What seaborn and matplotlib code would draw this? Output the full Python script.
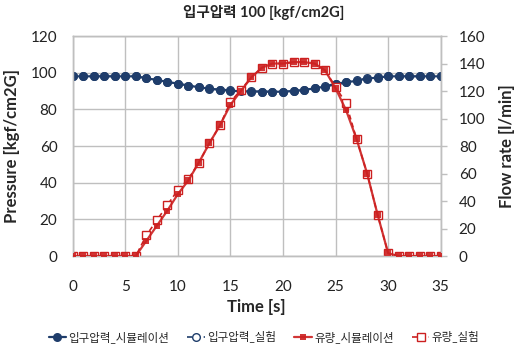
import matplotlib
matplotlib.use("Agg")
import matplotlib.pyplot as plt
import seaborn as sns
import pandas as pd

sns.set_theme(style="white")
plt.rcParams["font.family"] = ["Lato", "Noto Sans CJK KR", "DejaVu Sans"]

# Time axis [s]
time_s = list(range(0, 36))

# Inlet pressure [kgf/cm2G]
pressure_sim = [98, 98, 98, 98, 98, 98, 98, 97, 96, 95, 94, 93, 92, 91.3, 90.5, 90.2,
                89.8, 89.7, 89.7, 89.6, 89.6, 90.0, 90.5, 91.5, 92.4, 93.6, 94.7, 95.6,
                96.8, 97.3, 98, 98, 98, 98, 98, 98]
pressure_exp = [98, 98, 98, 98, 98, 98, 98, 97, 96, 95, 94, 93, 92, 91.4, 90.8, 90.6,
                90.3, 89.9, 89.7, 89.6, 89.6, 90.0, 90.6, 91.7, 92.8, 94.0, 95.0, 96.0,
                96.9, 97.4, 98, 98, 98, 98, 98, 98]

# Flow rate [l/min]
flow_sim = [0, 0, 0, 0, 0, 0, 0, 11, 22, 33, 45, 55, 68, 82, 95, 110, 120, 130, 137,
            140, 140, 141, 141, 140, 135, 122, 106, 85, 60, 30, 2, 0, 0, 0, 0, 0]
flow_exp = [0, 0, 0, 0, 0, 0, 0, 15, 26, 37, 48, 56, 68, 82, 95, 112, 121, 130, 137,
            140, 140, 141, 141, 140, 135, 123, 111, 85, 60, 30, 2, 0, 0, 0, 0, 0]

labels = ["입구압력_시뮬레이션", "입구압력_실험", "유량_시뮬레이션", "유량_실험"]
title = "입구압력 100 [kgf/cm2G]"

navy = "#1F3D6B"
red = "#CC2020"
grid_c = "#BFBFBF"

df = pd.DataFrame({"t": time_s, "p_sim": pressure_sim, "p_exp": pressure_exp,
                   "q_sim": flow_sim, "q_exp": flow_exp})

fig = plt.figure(figsize=(5.28, 3.52), dpi=100)
ax = fig.add_axes([0.1377, 0.2727, 0.697, 0.625])
ax2 = ax.twinx()

# measured series first, simulated series drawn over them
sns.lineplot(data=df, x="t", y="p_exp", ax=ax, color=navy, marker="o", markersize=5.5,
             markerfacecolor="white", markeredgecolor=navy, markeredgewidth=1.0,
             linewidth=1.2, linestyle=(0, (3, 2)), legend=False, zorder=2)
sns.lineplot(data=df, x="t", y="p_sim", ax=ax, color=navy, marker="o", markersize=6.5,
             markeredgewidth=0, linewidth=1.6, legend=False, zorder=3)
sns.lineplot(data=df, x="t", y="q_exp", ax=ax2, color=red, marker="s", markersize=5.5,
             markerfacecolor="white", markeredgecolor=red, markeredgewidth=1.0,
             linewidth=1.2, linestyle=(0, (3, 2)), legend=False, zorder=2)
sns.lineplot(data=df, x="t", y="q_sim", ax=ax2, color=red, marker="s", markersize=5,
             markeredgewidth=0, linewidth=1.6, legend=False, zorder=3, alpha=0.9)

ax.set_xlim(0, 35)
ax.set_ylim(0, 120)
ax2.set_ylim(0, 160)
ax.set_xticks(range(0, 36, 5))
ax.set_yticks(range(0, 121, 20))
ax2.set_yticks(range(0, 161, 20))

ax.grid(True, color=grid_c, linewidth=1.0)
ax.set_axisbelow(True)
ax2.grid(False)
for a in (ax, ax2):
    for s in a.spines.values():
        s.set_color(grid_c)
        s.set_linewidth(1.0)

ax.tick_params(axis="both", length=0, labelsize=11, colors="#222222")
ax.tick_params(axis="x", pad=17)
ax.tick_params(axis="y", pad=11)
ax2.tick_params(axis="y", length=4, width=1, color=grid_c, direction="out",
                labelsize=11, labelcolor="#222222", pad=9)

ax.set_xlabel("Time [s]", fontsize=12, fontweight="bold", labelpad=4)
ax.set_ylabel("Pressure [kgf/cm2G]", fontsize=12, fontweight="bold", labelpad=8)
ax2.set_ylabel("Flow rate [l/min]", fontsize=12, fontweight="bold", labelpad=10)

fig.suptitle(title, y=0.985, fontsize=10.5, fontweight="bold")

p_exp_line, p_sim_line = ax.get_lines()[:2]
q_exp_line, q_sim_line = ax2.get_lines()[:2]
handles = [p_sim_line, p_exp_line, q_sim_line, q_exp_line]
fig.legend(handles, labels, loc="lower center", bbox_to_anchor=(0.5, -0.005), ncol=4,
           frameon=False, fontsize=8.3, handlelength=1.5, handletextpad=0.2,
           columnspacing=1.6)

fig.savefig("out.png", dpi=100)
